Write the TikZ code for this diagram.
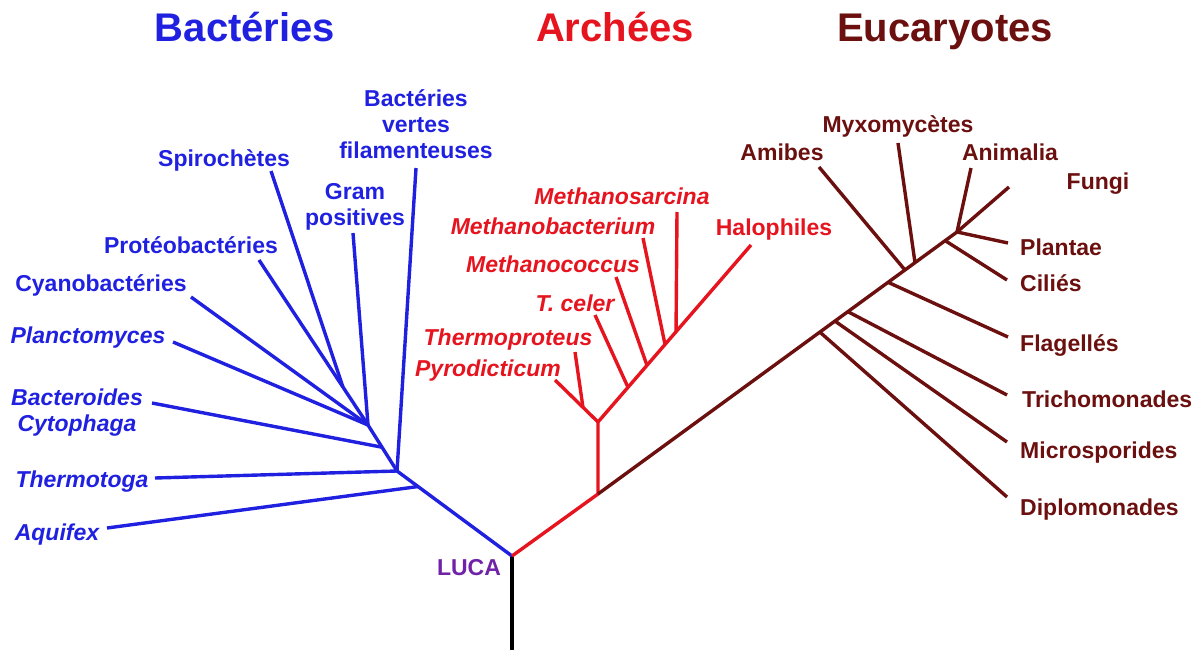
\documentclass[tikz,border=0pt]{standalone}
\usepackage{fontspec}
\setmainfont{Liberation Sans}
\usepackage{xcolor}
\usetikzlibrary{calc}
\definecolor{BactBlue}{HTML}{2020E0}
\definecolor{ArchRed}{HTML}{E6141E}
\definecolor{EukBrown}{HTML}{6B0F0F}
\definecolor{LucaPurple}{HTML}{7022A8}
\tikzset{
  branch/.style={line width=3.4pt, line join=round},
  taxon/.style={font=\fontsize{23}{26}\selectfont\bfseries, inner sep=0pt, anchor=base},
  species/.style={taxon, font=\fontsize{23}{26}\selectfont\bfseries\itshape},
  domaintitle/.style={font=\fontsize{40}{44}\selectfont\bfseries, inner sep=0pt, anchor=base}
}

\begin{document}
\begin{tikzpicture}[x=1pt, y=-1pt]
\useasboundingbox (0,0) rectangle (1204,650);

% Domain titles
\node[domaintitle, text=BactBlue] at (245,42) (tbact) {Bactéries};
\node[domaintitle, text=ArchRed] at (615,42) (tarch) {Archées};
\node[domaintitle, text=EukBrown] at (945,42) (teuk) {Eucaryotes};

% Root stem and LUCA
\coordinate (luca) at (512,556);
\coordinate (stem) at (512,650);
\draw[branch, black] (stem) -- (luca);
\node[taxon, text=LucaPurple] at (469,575) (lucalbl) {LUCA};

% Bacteria: backbone and tips
\coordinate (b1) at (397,471);
\coordinate (b2) at (368,425);
\coordinate (tAquifex) at (107,528);
\coordinate (tThermotoga) at (155,478);
\coordinate (tBactero) at (152,403);
\coordinate (tPlancto) at (173,342);
\coordinate (tCyano) at (191,297);
\coordinate (tProteo) at (259,260);
\coordinate (tSpiro) at (271,171);
\coordinate (tGram) at (353,233);
\coordinate (tVertes) at (416,168);
\coordinate (jAquifex) at ($(luca)!0.817!(b1)$);
\coordinate (jBactero) at ($(b1)!0.517!(b2)$);
\coordinate (jSpiro) at ($(tProteo)!0.77!(b2)$);
\draw[branch, BactBlue] (luca) -- (b1) -- (b2);
\draw[branch, BactBlue] (jAquifex) -- (tAquifex);
\draw[branch, BactBlue] (b1) -- (tThermotoga);
\draw[branch, BactBlue] (b1) -- (tVertes);
\draw[branch, BactBlue] (jBactero) -- (tBactero);
\draw[branch, BactBlue] (b2) -- (tPlancto);
\draw[branch, BactBlue] (b2) -- (tCyano);
\draw[branch, BactBlue] (b2) -- (tProteo);
\draw[branch, BactBlue] (jSpiro) -- (tSpiro);
\draw[branch, BactBlue] (b2) -- (tGram);

\node[taxon, text=BactBlue, align=center] at (416,158) (lvertes) {Bactéries\\vertes\\filamenteuses};
\node[taxon, text=BactBlue] at (224,166) (lspiro) {Spirochètes};
\node[taxon, text=BactBlue, align=center] at (355,225) (lgram) {Gram\\positives};
\node[taxon, text=BactBlue] at (191,253) (lproteo) {Protéobactéries};
\node[taxon, text=BactBlue] at (101,291) (lcyano) {Cyanobactéries};
\node[species, text=BactBlue] at (88,343) (lplancto) {Planctomyces};
\node[species, text=BactBlue, align=center] at (77,431) (lbactero) {Bacteroides\\Cytophaga};
\node[species, text=BactBlue] at (82,487) (lthermotoga) {Thermotoga};
\node[species, text=BactBlue] at (57,540) (laquifex) {Aquifex};

% Archaea
\coordinate (a0) at (598,494);
\coordinate (a1) at (598,422);
\coordinate (tHalo) at (751,245);
\coordinate (tPyro) at (555,380);
\coordinate (tThermop) at (575,352);
\coordinate (tCeler) at (595,315);
\coordinate (tMcoccus) at (616,277);
\coordinate (tMbact) at (643,238);
\coordinate (tMsarc) at (677,212);
\draw[branch, ArchRed] (luca) -- (a0) -- (a1) -- (tHalo);
\draw[branch, ArchRed] (a1) -- (tPyro);
\draw[branch, ArchRed] ($(a1)!0.35!(tPyro)$) -- (tThermop);
\draw[branch, ArchRed] ($(a1)!0.196!(tHalo)$) -- (tCeler);
\draw[branch, ArchRed] ($(a1)!0.32!(tHalo)$) -- (tMcoccus);
\draw[branch, ArchRed] ($(a1)!0.438!(tHalo)$) -- (tMbact);
\draw[branch, ArchRed] ($(a1)!0.51!(tHalo)$) -- (tMsarc);

\node[species, text=ArchRed] at (622,204) (lmsarc) {Methanosarcina};
\node[species, text=ArchRed] at (553,234) (lmbact) {Methanobacterium};
\node[taxon, text=ArchRed] at (774,235) (lhalo) {Halophiles};
\node[species, text=ArchRed] at (553,272) (lmcoccus) {Methanococcus};
\node[species, text=ArchRed] at (575,311) (lceler) {T. celer};
\node[species, text=ArchRed] at (508,345) (lthermop) {Thermoproteus};
\node[species, text=ArchRed] at (488,376) (lpyro) {Pyrodicticum};

% Eukaryotes
\coordinate (e1) at (957,232);
\coordinate (tFungi) at (1009,187);
\coordinate (tAnimal) at (971,168);
\coordinate (tPlant) at (1008,243);
\coordinate (tCilie) at (1007,280);
\coordinate (tFlag) at (1008,337);
\coordinate (tAmibe) at (819,167);
\coordinate (tMyxo) at (898,143);
\coordinate (tTricho) at (1007,395);
\coordinate (tMicro) at (1007,442);
\coordinate (tDiplo) at (1007,497);
\draw[branch, EukBrown] (a0) -- (e1);
\draw[branch, EukBrown] (e1) -- (tFungi);
\draw[branch, EukBrown] (e1) -- (tAnimal);
\draw[branch, EukBrown] (e1) -- (tPlant);
\draw[branch, EukBrown] ($(a0)!0.967!(e1)$) -- (tCilie);
\draw[branch, EukBrown] ($(a0)!0.883!(e1)$) -- (tMyxo);
\draw[branch, EukBrown] ($(a0)!0.855!(e1)$) -- (tAmibe);
\draw[branch, EukBrown] ($(a0)!0.808!(e1)$) -- (tFlag);
\draw[branch, EukBrown] ($(a0)!0.696!(e1)$) -- (tTricho);
\draw[branch, EukBrown] ($(a0)!0.660!(e1)$) -- (tMicro);
\draw[branch, EukBrown] ($(a0)!0.618!(e1)$) -- (tDiplo);

\node[taxon, text=EukBrown] at (898,132) (lmyxo) {Myxomycètes};
\node[taxon, text=EukBrown] at (782,160) (lamibe) {Amibes};
\node[taxon, text=EukBrown] at (1010,160) (lanimal) {Animalia};
\node[taxon, text=EukBrown] at (1098,189) (lfungi) {Fungi};
\node[taxon, text=EukBrown, anchor=base west] at (1020,255) (lplant) {Plantae};
\node[taxon, text=EukBrown, anchor=base west] at (1020,291) (lcilie) {Ciliés};
\node[taxon, text=EukBrown, anchor=base west] at (1020,351) (lflag) {Flagellés};
\node[taxon, text=EukBrown, anchor=base west] at (1022,407) (ltricho) {Trichomonades};
\node[taxon, text=EukBrown, anchor=base west] at (1020,458) (lmicro) {Microsporides};
\node[taxon, text=EukBrown, anchor=base west] at (1020,515) (ldiplo) {Diplomonades};
\end{tikzpicture}
\end{document}
